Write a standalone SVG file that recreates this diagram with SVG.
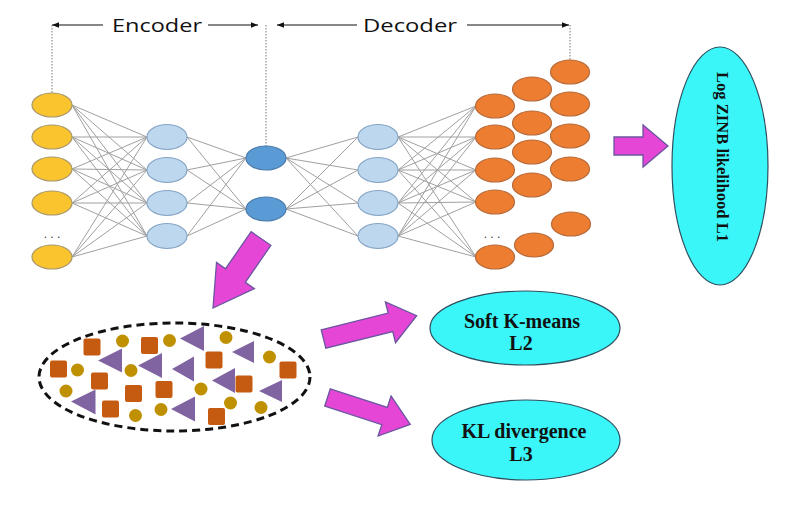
<svg xmlns="http://www.w3.org/2000/svg" width="788" height="508" viewBox="0 0 788 508">
<defs>
<style>
.hdr{font-family:"Open Sans","Liberation Sans",sans-serif;font-size:19px;fill:#111}
.lbl{font-family:"Liberation Serif","Times New Roman",serif;font-weight:bold;fill:#111}
.hl{stroke:#111;stroke-width:1.2;fill:none}
.dot{stroke:#777;stroke-width:1;stroke-dasharray:1.5,1.5;fill:none}
.in{fill:#FAC42E;stroke:#A8976A;stroke-width:1.2}
.h{fill:#BDD7EE;stroke:#86A6C6;stroke-width:1.2}
.z{fill:#5B9BD5;stroke:#4A7AAA;stroke-width:1.2}
.out{fill:#ED7D31;stroke:#B66A3A;stroke-width:1.2}
.cn line{stroke:#A0A0A0;stroke-width:1}
.arr{fill:#E646D6;stroke:#6A55A0;stroke-width:1.3}
.cy{fill:#3AF6F8;stroke:#2F4F5F;stroke-width:1.2}
.sq{fill:#C55A11}
.ci{fill:#BF9000}
.tr{fill:#8064A2}
</style>
<marker id="ah" viewBox="0 0 10 10" refX="10" refY="5" markerWidth="7" markerHeight="7" orient="auto-start-reverse" markerUnits="userSpaceOnUse">
<path d="M0,1 L10,5 L0,9 z" fill="#111"/>
</marker>
</defs>
<rect width="788" height="508" fill="#fff"/>

<g id="header">
<line class="hl" x1="52" y1="25" x2="103" y2="25" marker-start="url(#ah)"/>
<text class="hdr" x="112" y="32" textLength="90" lengthAdjust="spacingAndGlyphs">Encoder</text>
<line class="hl" x1="208" y1="25" x2="258" y2="25" marker-end="url(#ah)"/>
<line class="hl" x1="277" y1="25" x2="357" y2="25" marker-start="url(#ah)"/>
<text class="hdr" x="363" y="32" textLength="94" lengthAdjust="spacingAndGlyphs">Decoder</text>
<line class="hl" x1="467" y1="25" x2="569" y2="25" marker-end="url(#ah)"/>
<line class="dot" x1="52" y1="25" x2="52" y2="93"/>
<line class="dot" x1="266" y1="25" x2="266" y2="146"/>
<line class="dot" x1="570" y1="25" x2="570" y2="60"/>
</g>

<g id="connectors" class="cn">
<line x1="72" y1="105" x2="147" y2="137"/><line x1="72" y1="105" x2="147" y2="170"/><line x1="72" y1="105" x2="147" y2="203"/><line x1="72" y1="105" x2="147" y2="236"/>
<line x1="72" y1="137" x2="147" y2="137"/><line x1="72" y1="137" x2="147" y2="170"/><line x1="72" y1="137" x2="147" y2="203"/><line x1="72" y1="137" x2="147" y2="236"/>
<line x1="72" y1="169" x2="147" y2="137"/><line x1="72" y1="169" x2="147" y2="170"/><line x1="72" y1="169" x2="147" y2="203"/><line x1="72" y1="169" x2="147" y2="236"/>
<line x1="72" y1="203" x2="147" y2="137"/><line x1="72" y1="203" x2="147" y2="170"/><line x1="72" y1="203" x2="147" y2="203"/><line x1="72" y1="203" x2="147" y2="236"/>
<line x1="72" y1="257" x2="147" y2="137"/><line x1="72" y1="257" x2="147" y2="170"/><line x1="72" y1="257" x2="147" y2="203"/><line x1="72" y1="257" x2="147" y2="236"/>
<line x1="187" y1="137" x2="246" y2="158"/><line x1="187" y1="137" x2="246" y2="209"/>
<line x1="187" y1="170" x2="246" y2="158"/><line x1="187" y1="170" x2="246" y2="209"/>
<line x1="187" y1="203" x2="246" y2="158"/><line x1="187" y1="203" x2="246" y2="209"/>
<line x1="187" y1="236" x2="246" y2="158"/><line x1="187" y1="236" x2="246" y2="209"/>
<line x1="286" y1="158" x2="358" y2="137"/><line x1="286" y1="158" x2="358" y2="170"/><line x1="286" y1="158" x2="358" y2="203"/><line x1="286" y1="158" x2="358" y2="236"/>
<line x1="286" y1="209" x2="358" y2="137"/><line x1="286" y1="209" x2="358" y2="170"/><line x1="286" y1="209" x2="358" y2="203"/><line x1="286" y1="209" x2="358" y2="236"/>
<line x1="398" y1="137" x2="476" y2="106"/><line x1="398" y1="137" x2="476" y2="137"/><line x1="398" y1="137" x2="476" y2="170"/><line x1="398" y1="137" x2="476" y2="202"/><line x1="398" y1="137" x2="476" y2="257"/>
<line x1="398" y1="170" x2="476" y2="106"/><line x1="398" y1="170" x2="476" y2="137"/><line x1="398" y1="170" x2="476" y2="170"/><line x1="398" y1="170" x2="476" y2="202"/><line x1="398" y1="170" x2="476" y2="257"/>
<line x1="398" y1="203" x2="476" y2="106"/><line x1="398" y1="203" x2="476" y2="137"/><line x1="398" y1="203" x2="476" y2="170"/><line x1="398" y1="203" x2="476" y2="202"/><line x1="398" y1="203" x2="476" y2="257"/>
<line x1="398" y1="236" x2="476" y2="106"/><line x1="398" y1="236" x2="476" y2="137"/><line x1="398" y1="236" x2="476" y2="170"/><line x1="398" y1="236" x2="476" y2="202"/><line x1="398" y1="236" x2="476" y2="257"/>
</g>

<g id="input-layer">
<ellipse class="in" cx="52" cy="105" rx="20" ry="12"/>
<ellipse class="in" cx="52" cy="137" rx="20" ry="12"/>
<ellipse class="in" cx="52" cy="169" rx="20" ry="12"/>
<ellipse class="in" cx="52" cy="203" rx="20" ry="12"/>
<ellipse class="in" cx="52" cy="257" rx="20" ry="12"/>
<text x="52" y="238" text-anchor="middle" font-family="Liberation Sans,sans-serif" font-size="12" fill="#333">. . .</text>
</g>

<g id="encoder-hidden">
<ellipse class="h" cx="167" cy="137" rx="20" ry="12.5"/>
<ellipse class="h" cx="167" cy="170" rx="20" ry="12.5"/>
<ellipse class="h" cx="167" cy="203" rx="20" ry="12.5"/>
<ellipse class="h" cx="167" cy="236" rx="20" ry="12.5"/>
</g>

<g id="latent">
<ellipse class="z" cx="266" cy="158" rx="20" ry="12"/>
<ellipse class="z" cx="266" cy="209" rx="20" ry="12"/>
</g>

<g id="decoder-hidden">
<ellipse class="h" cx="378" cy="137" rx="20" ry="12.5"/>
<ellipse class="h" cx="378" cy="170" rx="20" ry="12.5"/>
<ellipse class="h" cx="378" cy="203" rx="20" ry="12.5"/>
<ellipse class="h" cx="378" cy="236" rx="20" ry="12.5"/>
</g>

<g id="output-layer">
<ellipse class="out" cx="495" cy="106" rx="19.5" ry="12"/>
<ellipse class="out" cx="495" cy="137" rx="19.5" ry="12"/>
<ellipse class="out" cx="495" cy="170" rx="19.5" ry="12"/>
<ellipse class="out" cx="495" cy="202" rx="19.5" ry="12"/>
<ellipse class="out" cx="495" cy="257" rx="19.5" ry="12"/>
<text x="492" y="238" text-anchor="middle" font-family="Liberation Sans,sans-serif" font-size="12" fill="#333">. . .</text>
<ellipse class="out" cx="532" cy="89" rx="19.5" ry="12"/>
<ellipse class="out" cx="532" cy="123" rx="19.5" ry="12"/>
<ellipse class="out" cx="532" cy="152" rx="19.5" ry="12"/>
<ellipse class="out" cx="532" cy="185" rx="19.5" ry="12"/>
<ellipse class="out" cx="534" cy="245" rx="19.5" ry="12"/>
<ellipse class="out" cx="570" cy="72" rx="19.5" ry="12"/>
<ellipse class="out" cx="570" cy="104" rx="19.5" ry="12"/>
<ellipse class="out" cx="570" cy="136" rx="19.5" ry="12"/>
<ellipse class="out" cx="570" cy="169" rx="19.5" ry="12"/>
<ellipse class="out" cx="571" cy="224" rx="19.5" ry="12"/>
</g>

<g id="arrows">
<polygon class="arr" transform="translate(614,146)" points="0,-9 29,-9 29,-21 54,0 29,21 29,9 0,9"/>
<polygon class="arr" transform="translate(261,238.5) rotate(124.6)" points="0,-12 45,-12 45,-23 84.5,0 45,23 45,12 0,12"/>
<polygon class="arr" transform="translate(323.5,339) rotate(-14)" points="0,-9.5 69,-9.5 69,-21 96,0 69,21 69,9.5 0,9.5"/>
<polygon class="arr" transform="translate(327.5,397.5) rotate(18)" points="0,-9 60,-9 60,-21 87,0 60,21 60,9 0,9"/>
</g>

<g id="loss-L1">
<ellipse class="cy" cx="720" cy="166" rx="48" ry="119"/>
<text class="lbl" font-size="17.5" text-anchor="middle" transform="translate(717,157) rotate(90)" textLength="170" lengthAdjust="spacingAndGlyphs">Log ZINB likelihood L1</text>
</g>

<g id="loss-L2">
<ellipse class="cy" cx="525" cy="328" rx="95" ry="37"/>
<text class="lbl" font-size="20" x="522" y="328" text-anchor="middle">Soft K-means</text>
<text class="lbl" font-size="20" x="521" y="350" text-anchor="middle">L2</text>
</g>

<g id="loss-L3">
<ellipse class="cy" cx="526" cy="440" rx="94" ry="40"/>
<text class="lbl" font-size="20" x="524" y="438" text-anchor="middle">KL divergence</text>
<text class="lbl" font-size="20" x="521" y="461" text-anchor="middle">L3</text>
</g>

<g id="cluster">
<ellipse cx="174.5" cy="377" rx="135.5" ry="54" fill="#fff" stroke="#111" stroke-width="3" stroke-dasharray="8,5"/>
<rect class="sq" x="83.5" y="338.5" width="17" height="17" rx="2"/>
<rect class="sq" x="141" y="337" width="17" height="17" rx="2"/>
<rect class="sq" x="50" y="360.5" width="17" height="17" rx="2"/>
<rect class="sq" x="91" y="372.5" width="17" height="17" rx="2"/>
<rect class="sq" x="125" y="385" width="17" height="17" rx="2"/>
<rect class="sq" x="155.5" y="381" width="17" height="17" rx="2"/>
<rect class="sq" x="102" y="400.5" width="17" height="17" rx="2"/>
<rect class="sq" x="205.5" y="351.5" width="17" height="17" rx="2"/>
<rect class="sq" x="279.5" y="361.5" width="17" height="17" rx="2"/>
<rect class="sq" x="235.5" y="375.5" width="17" height="17" rx="2"/>
<rect class="sq" x="208" y="408" width="17" height="17" rx="2"/>
<circle class="ci" cx="122.5" cy="341" r="6.5"/>
<circle class="ci" cx="169.5" cy="340.5" r="6.5"/>
<circle class="ci" cx="226" cy="337.5" r="6.5"/>
<circle class="ci" cx="269.5" cy="357" r="6.5"/>
<circle class="ci" cx="77.5" cy="370" r="6.5"/>
<circle class="ci" cx="131" cy="370.5" r="6.5"/>
<circle class="ci" cx="66" cy="391" r="6.5"/>
<circle class="ci" cx="201" cy="389" r="6.5"/>
<circle class="ci" cx="135.5" cy="415.5" r="6.5"/>
<circle class="ci" cx="161" cy="409.5" r="6.5"/>
<circle class="ci" cx="230.5" cy="403" r="6.5"/>
<circle class="ci" cx="261" cy="407.5" r="6.5"/>
<polygon class="tr" points="180,338.5 204,326 204,351"/>
<polygon class="tr" points="98,360.5 122,348.5 122,372.5"/>
<polygon class="tr" points="138,365.5 162,353 162,378"/>
<polygon class="tr" points="232,352 254,341 254,363"/>
<polygon class="tr" points="172,369 194,356.5 194,381.5"/>
<polygon class="tr" points="212,380.5 235,368 235,393"/>
<polygon class="tr" points="259,391 282,380 282,402"/>
<polygon class="tr" points="71,401.5 95.5,389.5 95.5,414.5"/>
<polygon class="tr" points="171,409 195,396.5 195,421.5"/>
</g>
</svg>
